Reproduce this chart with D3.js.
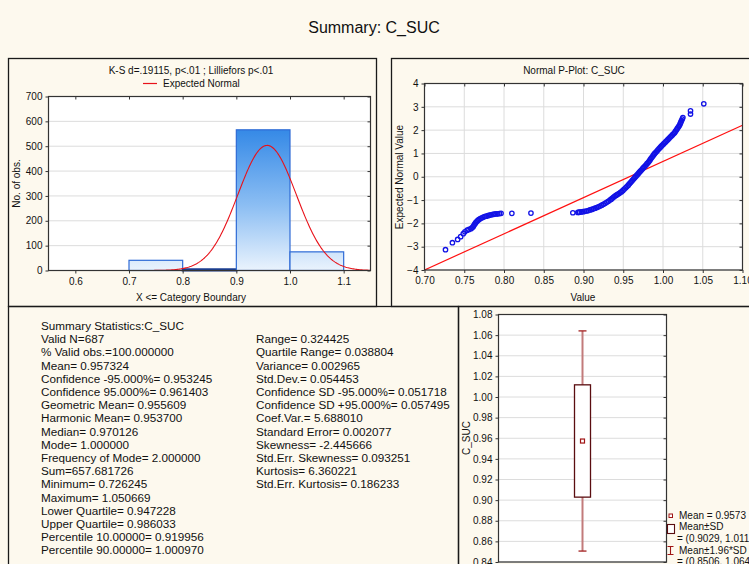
<!DOCTYPE html>
<html><head><meta charset="utf-8">
<script src="https://cdn.jsdelivr.net/npm/d3@7"></script>
<style>
html,body{margin:0;padding:0;background:#fdf9ee;overflow:hidden}
svg{display:block;font-family:"Liberation Sans",Arial,sans-serif}
</style></head><body>
<svg id="c" width="749" height="564"></svg>
<script>
// ---- data ----
const mainTitle = "Summary: C_SUC";

// histogram (X <= category boundary)
const histTitle = "K-S d=.19115, p<.01 ; Lilliefors p<.01";
const binStarts = [0.7, 0.8, 0.9, 1.0];
const binCounts = [41, 5, 566, 75];
const binWidth = 0.1;
const histXTicks = [0.6, 0.7, 0.8, 0.9, 1.0, 1.1];
const histYTicks = [0, 100, 200, 300, 400, 500, 600, 700];

// descriptive statistics
const nValid = 687;
const meanValue = 0.957324;
const sdValue = 0.054453;

// normal probability plot: observed value vs expected normal value
const ppValue = [
  0.7264, 0.7351, 0.7417, 0.7455, 0.7488, 0.7508, 0.7537, 0.7560,
  0.7583, 0.7597, 0.7612, 0.7622, 0.7632, 0.7642, 0.7653, 0.7667, 0.7682, 0.7698,
  0.7715, 0.7735, 0.7756, 0.7777, 0.7798, 0.7818, 0.7839, 0.7860, 0.7880, 0.7900,
  0.7921, 0.7942, 0.7963, 0.8099, 0.8339,
  0.8866, 0.8929, 0.8941, 0.8950, 0.8972, 0.8994, 0.9016, 0.9038, 0.9060, 0.9082, 0.9104,
  0.9125, 0.9146, 0.9167, 0.9188, 0.9209, 0.9230, 0.9250, 0.9271,
  0.9292, 0.9312, 0.9333, 0.9349, 0.9365, 0.9380, 0.9396,
  0.9413, 0.9429, 0.9446, 0.9462, 0.9479, 0.9496, 0.9513, 0.9530, 0.9546, 0.9563,
  0.9577, 0.9591, 0.9605, 0.9618, 0.9632, 0.9646, 0.9660, 0.9674, 0.9688, 0.9701,
  0.9715, 0.9729, 0.9743, 0.9757, 0.9771, 0.9785, 0.9799, 0.9813,
  0.9825, 0.9837, 0.9848, 0.9860, 0.9872, 0.9884, 0.9896,
  0.9910, 0.9924, 0.9937, 0.9951, 0.9965, 0.9979,
  0.9993, 1.0007, 1.0021, 1.0035, 1.0049, 1.0063,
  1.0077, 1.0091, 1.0105, 1.0118, 1.0132, 1.0146,
  1.0158, 1.0171, 1.0183, 1.0196, 1.0208,
  1.0216, 1.0225, 1.0233, 1.0242, 1.0250,
  1.0346, 1.0346, 1.0513
];
const ppNormal = [
  -3.13, -2.83, -2.69, -2.57, -2.44, -2.36, -2.29, -2.26,
  -2.23, -2.19, -2.14, -2.085, -2.03, -1.98, -1.93, -1.885, -1.84, -1.805,
  -1.77, -1.74, -1.71, -1.69, -1.67, -1.65, -1.63, -1.615, -1.60, -1.595,
  -1.59, -1.58, -1.57, -1.57, -1.56,
  -1.545, -1.53, -1.525, -1.52, -1.51, -1.50, -1.485, -1.47, -1.45, -1.425, -1.40,
  -1.375, -1.35, -1.32, -1.29, -1.255, -1.22, -1.18, -1.14,
  -1.095, -1.05, -1.00, -0.96, -0.915, -0.87, -0.83,
  -0.79, -0.755, -0.72, -0.68, -0.64, -0.585, -0.53, -0.475, -0.42, -0.36,
  -0.305, -0.25, -0.195, -0.14, -0.085, -0.03, 0.025, 0.08, 0.13, 0.185,
  0.24, 0.29, 0.345, 0.40, 0.45, 0.505, 0.56, 0.61,
  0.665, 0.72, 0.78, 0.835, 0.89, 0.945, 1.00,
  1.05, 1.105, 1.155, 1.21, 1.26, 1.31,
  1.36, 1.41, 1.455, 1.505, 1.55, 1.60,
  1.65, 1.70, 1.745, 1.795, 1.84, 1.89,
  1.955, 2.02, 2.085, 2.15, 2.21,
  2.275, 2.34, 2.41, 2.475, 2.54,
  2.69, 2.83, 3.13
];
const ppTitle = "Normal P-Plot: C_SUC";
const ppLineValue = [0.70, 1.10];
const ppLineNormal = [-4.0, 2.21];
const ppXTicks = [0.70, 0.75, 0.80, 0.85, 0.90, 0.95, 1.00, 1.05, 1.10];
const ppYTicks = [-4, -3, -2, -1, 0, 1, 2, 3, 4];

// box plot: mean, mean±SD, mean±1.96*SD
const boxMean = 0.9573;
const boxSD = [0.9029, 1.0118];
const boxCI = [0.8506, 1.0641];
const boxYTicks = [0.84, 0.86, 0.88, 0.90, 0.92, 0.94, 0.96, 0.98, 1.00, 1.02, 1.04, 1.06, 1.08];

// summary text
const statsLeft = [
  "Summary Statistics:C_SUC",
  "Valid N=687",
  "% Valid obs.=100.000000",
  "Mean= 0.957324",
  "Confidence -95.000%= 0.953245",
  "Confidence 95.000%= 0.961403",
  "Geometric Mean= 0.955609",
  "Harmonic Mean= 0.953700",
  "Median= 0.970126",
  "Mode= 1.000000",
  "Frequency of Mode= 2.000000",
  "Sum=657.681726",
  "Minimum= 0.726245",
  "Maximum= 1.050669",
  "Lower Quartile= 0.947228",
  "Upper Quartile= 0.986033",
  "Percentile 10.00000= 0.919956",
  "Percentile 90.00000= 1.000970"
];
const statsRight = [
  "Range= 0.324425",
  "Quartile Range= 0.038804",
  "Variance= 0.002965",
  "Std.Dev.= 0.054453",
  "Confidence SD -95.000%= 0.051718",
  "Confidence SD +95.000%= 0.057495",
  "Coef.Var.= 5.688010",
  "Standard Error= 0.002077",
  "Skewness= -2.445666",
  "Std.Err. Skewness= 0.093251",
  "Kurtosis= 6.360221",
  "Std.Err. Kurtosis= 0.186233"
];

// ---- drawing ----
const svg = d3.select("#c");
const gridCol = "#dcdcdc";
const defs = svg.append("defs");

svg.append("rect").attr("width", 749).attr("height", 564).attr("fill", "#fdf9ee");

svg.append("text").attr("x", 374).attr("y", 33).attr("text-anchor", "middle")
  .attr("font-size", 16).attr("fill", "#111").text(mainTitle);

// panel frames
function frame(x, y, w, h) {
  svg.append("rect").attr("x", x).attr("y", y).attr("width", w).attr("height", h)
    .attr("fill", "none").attr("stroke", "#1a1a1a").attr("stroke-width", 1.3);
}
frame(8.5, 58.5, 368, 248);
frame(391.5, 58.5, 370, 248);
frame(8.5, 306.5, 450, 270);
frame(458.5, 306.5, 300, 270);

// plot background and grid lines
function axesBox(g, x, y, opts) {
  const [x0, x1] = x.range(), [y0, y1] = y.range();
  g.append("rect").attr("x", x0).attr("y", y1).attr("width", x1 - x0).attr("height", y0 - y1)
    .attr("fill", "#fff");
  if (opts.vgrid) {
    g.selectAll(null).data(opts.xTicks).join("line")
      .attr("x1", d => x(d)).attr("x2", d => x(d)).attr("y1", y1).attr("y2", y0)
      .attr("stroke", gridCol).attr("stroke-width", 1);
  }
  g.selectAll(null).data(opts.yTicks).join("line")
    .attr("x1", x0).attr("x2", x1).attr("y1", d => y(d)).attr("y2", d => y(d))
    .attr("stroke", gridCol).attr("stroke-width", 1);
}
// plot frame, ticks on all four sides, tick labels left and bottom
function axesFrame(g, x, y, opts) {
  const [x0, x1] = x.range(), [y0, y1] = y.range();
  g.append("rect").attr("x", x0).attr("y", y1).attr("width", x1 - x0).attr("height", y0 - y1)
    .attr("fill", "none").attr("stroke", "#333").attr("stroke-width", 1.2);
  const yAx = d3.axisLeft(y).tickValues(opts.yTicks).tickFormat(opts.yFmt).tickSize(3).tickPadding(3);
  const ya = g.append("g").attr("transform", `translate(${x0},0)`).call(yAx);
  const yr = g.append("g").attr("transform", `translate(${x1},0)`)
    .call(d3.axisRight(y).tickValues(opts.yTicks).tickSize(-3).tickFormat(""));
  const axes = [ya, yr];
  if (opts.xTicks) {
    const xa = g.append("g").attr("transform", `translate(0,${y0})`)
      .call(d3.axisBottom(x).tickValues(opts.xTicks).tickFormat(opts.xFmt).tickSize(3).tickPadding(4));
    const xt = g.append("g").attr("transform", `translate(0,${y1})`)
      .call(d3.axisTop(x).tickValues(opts.xTicks).tickSize(-3).tickFormat(""));
    axes.push(xa, xt);
  }
  axes.forEach(a => {
    a.select(".domain").remove();
    a.selectAll("line").attr("stroke", "#333");
    a.selectAll("text").attr("font-size", 10).attr("fill", "#111")
      .attr("font-family", "'Liberation Sans', Arial, sans-serif");
  });
}

// ---- histogram ----
{
  const g = svg.append("g");
  const x = d3.scaleLinear([0.55, 1.15], [48.5, 370.5]);
  const y = d3.scaleLinear([0, 700], [270.5, 96.5]);
  axesBox(g, x, y, { yTicks: histYTicks });

  const grad = defs.append("linearGradient").attr("id", "barGrad")
    .attr("gradientUnits", "userSpaceOnUse").attr("x1", 0).attr("x2", 0)
    .attr("y1", y(580)).attr("y2", y(0));
  grad.append("stop").attr("offset", 0).attr("stop-color", "#3187e6");
  grad.append("stop").attr("offset", 0.55).attr("stop-color", "#8cbef3");
  grad.append("stop").attr("offset", 1).attr("stop-color", "#eaf3fd");

  const bins = binStarts.map((b, i) => ({ lo: b, hi: b + binWidth, n: binCounts[i] }));
  g.selectAll(null).data(bins).join("rect")
    .attr("x", d => x(d.lo)).attr("width", d => x(d.hi) - x(d.lo))
    .attr("y", d => y(d.n)).attr("height", d => y(0) - y(d.n))
    .attr("fill", "url(#barGrad)").attr("stroke", d => d.n < 10 ? "#1b3f93" : "#2f6bd6")
    .attr("stroke-width", d => d.n < 10 ? 2 : 1.2);

  // expected normal counts per bin from the mean and standard deviation
  const scaleN = nValid * binWidth / (sdValue * Math.sqrt(2 * Math.PI));
  const xs = d3.range(0.55, 1.1501, 0.002);
  const curve = xs.map(v => [v, scaleN * Math.exp(-0.5 * ((v - meanValue) / sdValue) ** 2)]);
  g.append("path").datum(curve)
    .attr("d", d3.line().x(d => x(d[0])).y(d => y(d[1])))
    .attr("fill", "none").attr("stroke", "#e8121a").attr("stroke-width", 1.1);

  axesFrame(g, x, y, { yTicks: histYTicks, yFmt: d3.format("d"), xTicks: histXTicks, xFmt: d3.format(".1f") });

  g.append("text").attr("x", 191).attr("y", 73.5).attr("text-anchor", "middle")
    .attr("font-size", 10).attr("fill", "#111").text(histTitle);
  g.append("line").attr("x1", 143).attr("x2", 157).attr("y1", 83.5).attr("y2", 83.5)
    .attr("stroke", "#e8121a").attr("stroke-width", 1.2);
  g.append("text").attr("x", 163).attr("y", 87).attr("font-size", 10).attr("fill", "#111")
    .text("Expected Normal");
  g.append("text").attr("x", 191).attr("y", 301).attr("text-anchor", "middle")
    .attr("font-size", 10).attr("fill", "#111").text("X <= Category Boundary");
  g.append("text").attr("transform", "translate(20,183.5) rotate(-90)").attr("text-anchor", "middle")
    .attr("font-size", 10).attr("fill", "#111").text("No. of obs.");
}

// ---- normal probability plot ----
{
  const g = svg.append("g");
  const x = d3.scaleLinear([0.70, 1.10], [424.5, 742.5]);
  const y = d3.scaleLinear([-4, 4], [270, 83.5]);
  axesBox(g, x, y, { vgrid: true, xTicks: ppXTicks, yTicks: ppYTicks });

  defs.append("clipPath").attr("id", "ppClip").append("rect")
    .attr("x", 424.5).attr("y", 83.5).attr("width", 318).attr("height", 186.5);

  g.append("line").attr("clip-path", "url(#ppClip)")
    .attr("x1", x(ppLineValue[0])).attr("y1", y(ppLineNormal[0]))
    .attr("x2", x(ppLineValue[1])).attr("y2", y(ppLineNormal[1]))
    .attr("stroke", "#ff1010").attr("stroke-width", 1.2);

  g.selectAll(null).data(ppValue.map((v, i) => [v, ppNormal[i]])).join("circle")
    .attr("cx", d => x(d[0])).attr("cy", d => y(d[1])).attr("r", 2.2)
    .attr("fill", "none").attr("stroke", "#1212e6").attr("stroke-width", 1.3);

  axesFrame(g, x, y, { yTicks: ppYTicks, yFmt: d3.format("d"), xTicks: ppXTicks, xFmt: d3.format(".2f") });

  g.append("text").attr("x", 574).attr("y", 73.5).attr("text-anchor", "middle")
    .attr("font-size", 10).attr("fill", "#111").text(ppTitle);
  g.append("text").attr("x", 583).attr("y", 301).attr("text-anchor", "middle")
    .attr("font-size", 10).attr("fill", "#111").text("Value");
  g.append("text").attr("transform", "translate(403,177) rotate(-90)").attr("text-anchor", "middle")
    .attr("font-size", 10).attr("fill", "#111").text("Expected Normal Value");
}

// ---- summary statistics text ----
{
  const g = svg.append("g").attr("font-size", 11.7).attr("fill", "#111");
  g.selectAll(null).data(statsLeft).join("text")
    .attr("x", 41).attr("y", (d, i) => 330 + i * 13.2).text(d => d);
  g.selectAll(null).data(statsRight).join("text")
    .attr("x", 256).attr("y", (d, i) => 343.2 + i * 13.2).text(d => d);
}

// ---- box plot ----
{
  const g = svg.append("g");
  const y = d3.scaleLinear([0.84, 1.08], [562, 314.5]);
  const x = d3.scaleLinear([0, 1], [498.5, 666.5]);
  axesBox(g, x, y, { yTicks: boxYTicks });
  const cx = x(0.5);
  // whisker (mean ± 1.96*SD)
  g.append("line").attr("x1", cx).attr("x2", cx).attr("y1", y(boxCI[0])).attr("y2", y(boxCI[1]))
    .attr("stroke", "#c27b7b").attr("stroke-width", 2);
  g.selectAll(null).data(boxCI).join("line")
    .attr("x1", cx - 4).attr("x2", cx + 4).attr("y1", d => y(d)).attr("y2", d => y(d))
    .attr("stroke", "#a32020").attr("stroke-width", 1.3);
  // box (mean ± SD)
  g.append("rect").attr("x", cx - 8).attr("width", 16)
    .attr("y", y(boxSD[1])).attr("height", y(boxSD[0]) - y(boxSD[1]))
    .attr("fill", "#fff").attr("stroke", "#5a0d10").attr("stroke-width", 1.3);
  // mean
  g.append("rect").attr("x", cx - 2).attr("y", y(boxMean) - 2).attr("width", 4).attr("height", 4)
    .attr("fill", "#fff").attr("stroke", "#a01515").attr("stroke-width", 1.2);

  axesFrame(g, x, y, { yTicks: boxYTicks, yFmt: d3.format(".2f") });

  g.append("text").attr("transform", "translate(470,438) rotate(-90)").attr("text-anchor", "middle")
    .attr("font-size", 10).attr("fill", "#111").text("C_SUC");

  // legend
  const f = d3.format(".4f");
  const lg = g.append("g").attr("font-size", 10).attr("fill", "#111");
  lg.append("rect").attr("x", 669).attr("y", 514).attr("width", 3.5).attr("height", 3.5)
    .attr("fill", "#fff").attr("stroke", "#a01515").attr("stroke-width", 1);
  lg.append("text").attr("x", 679).attr("y", 518.5).text(`Mean = ${f(boxMean)}`);
  lg.append("rect").attr("x", 667.5).attr("y", 524.5).attr("width", 7).attr("height", 9)
    .attr("fill", "#fff").attr("stroke", "#5a0d10").attr("stroke-width", 1.1);
  lg.append("text").attr("x", 679).attr("y", 530).text("Mean±SD");
  lg.append("text").attr("x", 677).attr("y", 542).text(`= (${f(boxSD[0])}, ${f(boxSD[1])})`);
  lg.append("path").attr("d", "M667.5,546.5H673.5M670.5,546.5V554.5M667.5,554.5H673.5")
    .attr("fill", "none").attr("stroke", "#a01515").attr("stroke-width", 1.1);
  lg.append("text").attr("x", 679).attr("y", 553.5).text("Mean±1.96*SD");
  lg.append("text").attr("x", 677).attr("y", 565).text(`= (${f(boxCI[0])}, ${f(boxCI[1])})`);
}
</script>
</body></html>
